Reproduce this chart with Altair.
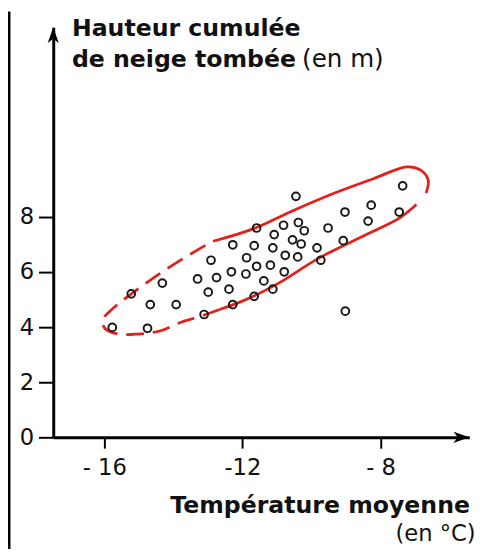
import altair as alt
import pandas as pd

# --- data ---
temp = [-10.45, -7.36, -7.46, -8.27, -8.36, -9.03, -9.08, -9.52, -9.73, -9.84,
        -10.21, -10.38, -10.30, -10.55, -10.40, -10.76, -10.81, -11.08, -11.12, -11.19,
        -10.79, -11.59, -11.66, -11.88, -11.59, -11.90, -11.38, -11.12, -11.66, -12.28,
        -12.32, -12.39, -12.28, -12.91, -12.75, -13.30, -12.99, -13.11, -13.92, -14.32,
        -14.67, -15.22, -15.77, -14.75, -9.02]
snow = [8.75, 9.13, 8.18, 8.43, 7.85, 8.18, 7.14, 7.60, 6.43, 6.88,
        7.50, 7.80, 7.02, 7.17, 6.55, 6.61, 7.70, 7.36, 6.88, 6.25,
        6.01, 7.60, 6.96, 6.52, 6.21, 5.93, 5.68, 5.38, 5.12, 6.99,
        6.01, 5.38, 4.82, 6.43, 5.80, 5.75, 5.27, 4.46, 4.82, 5.60,
        4.82, 5.21, 3.99, 3.96, 4.58]

# hand-drawn red outline (dashed part, then two solid parts)
dash_x = [-12.66, -13.32, -13.80, -14.37, -15.03, -15.60, -15.98, -16.05, -15.84, -14.46, -13.32, -12.85]
dash_y = [4.64, 4.35, 4.17, 3.87, 3.75, 3.75, 3.95, 4.25, 4.58, 5.89, 6.79, 7.12]
solid1_x = [-12.85, -11.71, -10.57, -9.33, -8.19, -7.24, -6.86, -6.62, -6.68]
solid1_y = [7.12, 7.56, 8.21, 8.87, 9.40, 9.82, 9.72, 9.35, 8.87]
solid2_x = [-6.96, -7.43, -8.38, -9.81, -10.95, -11.90, -12.66]
solid2_y = [8.45, 7.98, 7.38, 6.49, 5.60, 5.00, 4.64]

x_ticks = [-16, -12, -8]
x_tick_labels = ["- 16", "-12", "- 8"]
y_ticks = [0, 2, 4, 6, 8]
x_domain = [-17.48, -5.43]
y_domain = [0, 14.89]

title_y1 = "Hauteur cumulée"
title_y2 = "de neige tombée"
title_y2b = "(en m)"
title_x1 = "Température moyenne"
title_x2 = "(en °C)"

W, H = 423, 417
FONT = "DejaVu Sans"
RED = "#e3201b"

pts = pd.DataFrame({"t": temp, "h": snow})
dash_df = pd.DataFrame({"t": dash_x, "h": dash_y, "o": list(range(len(dash_x)))})
solid_df = pd.DataFrame({
    "t": solid1_x + solid2_x,
    "h": solid1_y + solid2_y,
    "seg": ["b"] * len(solid1_x) + ["c"] * len(solid2_x),
    "o": list(range(len(solid1_x))) + list(range(len(solid2_x))),
})

label_expr = " : ".join(
    [f"datum.value == {v} ? '{l}'" for v, l in zip(x_ticks, x_tick_labels)] + ["''"]
)

xs = alt.Scale(domain=x_domain, nice=False, zero=False)
ys = alt.Scale(domain=y_domain, nice=False, zero=False)

x_axis = alt.Axis(values=x_ticks, labelExpr=label_expr, title=None, grid=False,
                  domainColor="black", domainWidth=3, tickColor="black", tickWidth=2,
                  tickSize=11, labelPadding=9, labelFont=FONT, labelFontSize=23,
                  labelColor="#111")
y_axis = alt.Axis(values=y_ticks, title=None, grid=False,
                  domainColor="black", domainWidth=3, tickColor="black", tickWidth=2,
                  tickSize=15, labelPadding=5, labelFont=FONT, labelFontSize=23,
                  labelColor="#111")

points = alt.Chart(pts).mark_point(shape="circle", filled=False, color="#1a1a1a",
                                   strokeWidth=2, size=62, opacity=1).encode(
    x=alt.X("t:Q", scale=xs, axis=x_axis),
    y=alt.Y("h:Q", scale=ys, axis=y_axis),
)

dashed = alt.Chart(dash_df).mark_line(color=RED, strokeWidth=2.8, strokeDash=[18, 9],
                                      interpolate="catmull-rom").encode(
    x=alt.X("t:Q", scale=xs), y=alt.Y("h:Q", scale=ys), order="o:Q")

solid = alt.Chart(solid_df).mark_line(color=RED, strokeWidth=2.8,
                                      interpolate="catmull-rom").encode(
    x=alt.X("t:Q", scale=xs), y=alt.Y("h:Q", scale=ys), order="o:Q", detail="seg:N")

one = pd.DataFrame({"a": [0]})
arrow_right = alt.Chart(one).mark_point(
    shape="M 1 0 L -1 -0.7 L -0.45 0 L -1 0.7 Z", filled=True, color="black",
    size=260, opacity=1).encode(x=alt.value(W - 8), y=alt.value(H))
arrow_up = alt.Chart(one).mark_point(
    shape="M 0 -1 L -0.7 1 L 0 0.45 L 0.7 1 Z", filled=True, color="black",
    size=260, opacity=1).encode(x=alt.value(0), y=alt.value(8))

border = alt.Chart(one).mark_rule(color="black", strokeWidth=3).encode(
    x=alt.value(-45), y=alt.value(-16), y2=alt.value(H + 130))


def txt(s, x, y, bold=True, size=24):
    return alt.Chart(one).mark_text(text=s, align="left", baseline="alphabetic",
                                    font=FONT, fontSize=size,
                                    fontWeight="bold" if bold else "normal",
                                    color="#111").encode(x=alt.value(x), y=alt.value(y))


texts = [
    txt(title_y1, 19, 9),
    txt(title_y2, 19, 40),
    txt(title_y2b, 253, 40, bold=False, size=25),
    txt(title_x1, 119, 494),
    txt(title_x2, 348, 522, bold=False, size=23),
]

chart = alt.layer(dashed, solid, points, arrow_right, arrow_up, border, *texts).properties(
    width=W, height=H,
    autosize=alt.AutoSizeParams(type="none"),
    padding={"left": 46, "top": 15, "right": 16, "bottom": 109},
    background="white",
).configure_view(strokeWidth=0)

chart.save("out.html", embed_options={"renderer": "svg", "actions": False})
